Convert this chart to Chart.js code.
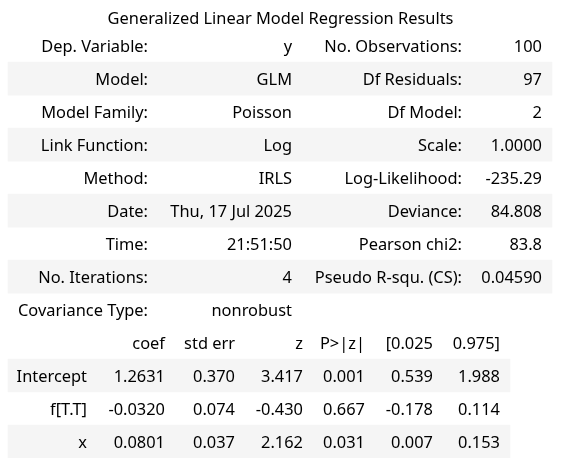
<!DOCTYPE html>
<html>
<head>
<meta charset="utf-8">
<script src="https://cdn.jsdelivr.net/npm/chart.js@4/dist/chart.umd.min.js"></script>
<style>
  html, body { margin: 0; padding: 0; background: #fff; }
  #wrap { width: 561px; height: 470px; }
</style>
</head>
<body>
<div id="wrap"><canvas id="summary" width="561" height="470"></canvas></div>
<script>
// summary table contents
const titleText = 'Generalized Linear Model Regression Results';
const infoLabelsLeft = ['Dep. Variable:', 'Model:', 'Model Family:', 'Link Function:', 'Method:', 'Date:', 'Time:', 'No. Iterations:'];
const infoValuesLeft = ['y', 'GLM', 'Poisson', 'Log', 'IRLS', 'Thu, 17 Jul 2025', '21:51:50', '4'];
const infoLabelsRight = ['No. Observations:', 'Df Residuals:', 'Df Model:', 'Scale:', 'Log-Likelihood:', 'Deviance:', 'Pearson chi2:', 'Pseudo R-squ. (CS):'];
const infoValuesRight = ['100', '97', '2', '1.0000', '-235.29', '84.808', '83.8', '0.04590'];
const covLabel = 'Covariance Type:';
const covValue = 'nonrobust';
const coefHeaders = ['coef', 'std err', 'z', 'P>|z|', '[0.025', '0.975]'];
const paramNames = ['Intercept', 'f[T.T]', 'x'];
const coefVals = [1.2631, -0.0320, 0.0801];
const stdErrVals = [0.370, 0.074, 0.037];
const zVals = [3.417, -0.430, 2.162];
const pVals = [0.001, 0.667, 0.031];
const ciLow = [0.539, -0.178, 0.007];
const ciHigh = [1.988, 0.114, 0.153];

// layout (x scale units == px)
const infoCols = [148, 292, 462, 542];
const covCols = [148, 292];
const paramCol = 87;
const coefCols = [165, 235, 303, 365, 433, 500];
const topWidth = [8, 552];
const bottomWidth = [8, 510];

const rowNames = infoLabelsLeft.map((_, i) => 'info' + i)
  .concat(['cov', 'header'], paramNames.map(p => 'p_' + p));

// zebra stripes on every second row of each table block
const stripes = rowNames.map((r, i) => {
  if (i < 8) return i % 2 === 1 ? topWidth : null;
  if (i >= 10) return (i - 10) % 2 === 0 ? bottomWidth : null;
  return null;
});

const cells = [];
infoLabelsLeft.forEach((t, i) => {
  cells.push([i, infoCols[0], t]);
  cells.push([i, infoCols[1], infoValuesLeft[i]]);
  cells.push([i, infoCols[2], infoLabelsRight[i]]);
  cells.push([i, infoCols[3], infoValuesRight[i]]);
});
cells.push([8, covCols[0], covLabel]);
cells.push([8, covCols[1], covValue]);
coefHeaders.forEach((h, j) => cells.push([9, coefCols[j], h]));
paramNames.forEach((p, i) => {
  const r = 10 + i;
  cells.push([r, paramCol, p]);
  const vals = [coefVals[i].toFixed(4), stdErrVals[i].toFixed(3), zVals[i].toFixed(3),
                pVals[i].toFixed(3), ciLow[i].toFixed(3), ciHigh[i].toFixed(3)];
  vals.forEach((v, j) => cells.push([r, coefCols[j], v]));
});

const FONT = '"Noto Sans", "Open Sans", sans-serif';
const FONT_SIZE = 16.4;

const cellText = {
  id: 'cellText',
  afterDatasetsDraw(chart) {
    const { ctx, scales: { x, y } } = chart;
    ctx.save();
    ctx.font = FONT_SIZE + 'px ' + FONT;
    ctx.fillStyle = '#000';
    ctx.textAlign = 'right';
    ctx.textBaseline = 'middle';
    cells.forEach(([r, col, text]) => {
      ctx.fillText(text, x.getPixelForValue(col), y.getPixelForValue(r) + 2);
    });
    ctx.restore();
  }
};

new Chart(document.getElementById('summary'), {
  type: 'bar',
  data: {
    labels: rowNames,
    datasets: [{
      data: stripes,
      backgroundColor: '#f5f5f5',
      borderWidth: 0,
      barPercentage: 1,
      categoryPercentage: 1
    }]
  },
  options: {
    indexAxis: 'y',
    responsive: false,
    animation: false,
    devicePixelRatio: 1,
    layout: { padding: { left: 0, right: 0, top: 0, bottom: 12 } },
    scales: {
      x: { type: 'linear', min: 0, max: 561, display: false },
      y: { display: false, offset: true }
    },
    plugins: {
      legend: { display: false },
      tooltip: { enabled: false },
      title: {
        display: true,
        text: titleText,
        color: '#000',
        font: { family: FONT, size: FONT_SIZE, weight: 'normal' },
        padding: { top: 9.5, bottom: 0 }
      }
    }
  },
  plugins: [cellText]
});
</script>
</body>
</html>
